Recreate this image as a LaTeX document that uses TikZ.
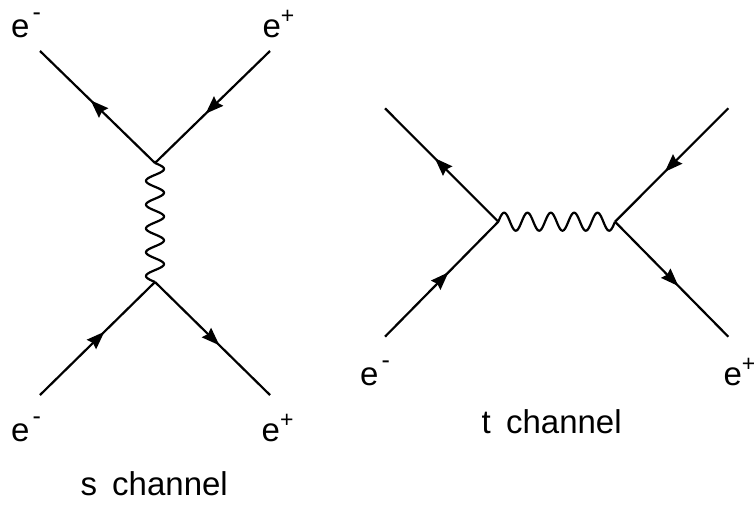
\documentclass[tikz,border=0pt]{standalone}
\usepackage{fontspec}
\setmainfont{Liberation Sans}
\usetikzlibrary{arrows.meta,decorations.markings}
\newcommand{\elneg}{e\kern3pt\raisebox{17pt}{\fontsize{25}{25}\selectfont -}}
\newcommand{\elpos}{e\raisebox{14pt}{\fontsize{23}{23}\selectfont +}}
\tikzset{
  fermion/.style={line width=2.2pt,
    postaction={decorate,decoration={markings,
      mark=at position 0.56 with {\arrow{Stealth[length=18pt,width=13pt,inset=2pt]}}}}},
  photon/.style={line width=2.2pt,line join=round},
  lbl/.style={anchor=base west,inner sep=0pt,font=\fontsize{33}{38}\selectfont},
  captext/.style={anchor=base,inner sep=0pt,font=\fontsize{33}{38}\selectfont}
}
\begin{document}
\begin{tikzpicture}[x=1pt,y=-1pt]
\useasboundingbox (0,0) rectangle (754,504);
% s channel
\coordinate (sa) at (40,51);
\coordinate (sb) at (270,51);
\coordinate (sv1) at (155,163);
\coordinate (sv2) at (155,282);
\coordinate (sc) at (40,395);
\coordinate (sd) at (270,395);
\draw[fermion] (sv1) -- (sa);
\draw[fermion] (sb) -- (sv1);
\draw[fermion] (sc) -- (sv2);
\draw[fermion] (sv2) -- (sd);
\draw[photon,shift={(sv1)}] plot[domain=0:119,samples=161,smooth]
  ({9*sin(15.1261*\x)},\x);
\node[lbl] (l1) at (11,37.3) {\elneg};
\node[lbl] (l2) at (262.3,37.3) {\elpos};
\node[lbl] (l3) at (11,441.7) {\elneg};
\node[lbl] (l4) at (261.5,441.7) {\elpos};
\node[captext] (scap) at (154.2,495) {s\hspace{0.46em}channel};
% t channel
\coordinate (ta) at (385,108.3);
\coordinate (tc) at (385,336.7);
\coordinate (tv1) at (498.3,221.7);
\coordinate (tv2) at (615,221.7);
\coordinate (tb) at (728.3,108.3);
\coordinate (td) at (728.3,336.7);
\draw[fermion] (tv1) -- (ta);
\draw[fermion] (tc) -- (tv1);
\draw[fermion] (tb) -- (tv2);
\draw[fermion] (tv2) -- (td);
\draw[photon,shift={(tv1)}] plot[domain=0:116.7,samples=161,smooth]
  (\x,{-9*sin(15.4242*\x)});
\node[lbl] (l5) at (360,385) {\elneg};
\node[lbl] (l6) at (723.3,385) {\elpos};
\node[captext] (tcap) at (551.7,433.3) {t\hspace{0.46em}channel};
\end{tikzpicture}
\end{document}
